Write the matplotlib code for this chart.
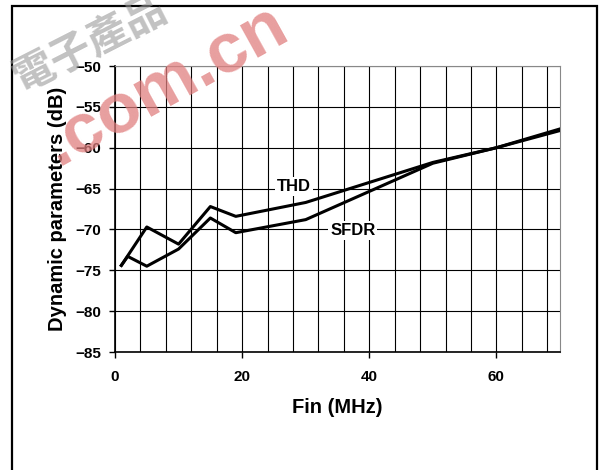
import matplotlib
matplotlib.use("Agg")
import matplotlib.pyplot as plt
from matplotlib.patches import Rectangle

# values
thd_f = [1, 5, 10, 15, 19, 30, 50, 60, 70]
thd_db = [-74.4, -69.7, -71.8, -67.2, -68.4, -66.7, -61.8, -60.0, -57.7]
sfdr_f = [1, 2, 5, 10, 15, 19, 30, 50, 60, 70]
sfdr_db = [-74.4, -73.3, -74.5, -72.4, -68.6, -70.4, -68.8, -61.9, -60.0, -57.9]

x_ticks = [0, 20, 40, 60]
x_grid = list(range(0, 72, 4))
y_ticks = [-85, -80, -75, -70, -65, -60, -55, -50]

plt.rcParams['font.family'] = ['Liberation Sans', 'DejaVu Sans']
plt.rcParams['font.weight'] = 'bold'

fig = plt.figure(figsize=(6.02, 4.70), dpi=100)
ax = fig.add_axes([115 / 602, 1 - 352 / 470, 445 / 602, 286 / 470])

# outer frame (open at the bottom)
fig.patches.append(Rectangle((12 / 602, -0.05), 585 / 602, 1.05 - 6 / 470,
                             transform=fig.transFigure, fill=False,
                             edgecolor='black', linewidth=1.6))

for g in x_grid:
    ax.axvline(g, color='black', linewidth=0.8, zorder=1)
for g in y_ticks:
    ax.axhline(g, color='black', linewidth=0.8, zorder=1)

ax.plot(thd_f, thd_db, color='black', linewidth=2.2, zorder=3)
ax.plot(sfdr_f, sfdr_db, color='black', linewidth=2.2, zorder=3)

ax.text(28.1, -64.7, 'THD', fontsize=12, fontweight='bold', ha='center', va='center',
        zorder=4, bbox=dict(facecolor='white', edgecolor='none', pad=1.5))
ax.text(37.4, -70.1, 'SFDR', fontsize=12, fontweight='bold', ha='center', va='center',
        zorder=4, bbox=dict(facecolor='white', edgecolor='none', pad=1.5))

ax.set_xlim(0, 70)
ax.set_ylim(-85, -50)
ax.set_xticks(x_ticks)
ax.set_yticks(y_ticks)
ax.tick_params(direction='out', length=4, width=1, labelsize=11)
ax.tick_params(axis='x', pad=9)
ax.tick_params(axis='y', pad=6)
for lab in ax.get_xticklabels() + ax.get_yticklabels():
    lab.set_fontweight('bold')

ax.spines['left'].set_linewidth(1.2)
ax.spines['bottom'].set_linewidth(1.2)
ax.spines['top'].set_color('#888888')
ax.spines['right'].set_color('#888888')

ax.set_xlabel('Fin (MHz)', fontsize=14.5, fontweight='bold', labelpad=10)
ax.set_ylabel('Dynamic parameters (dB)', fontsize=14.5, fontweight='bold', labelpad=6)

# watermark
fig.text(166 / 602, 1 - 86 / 470, '.com.cn', fontsize=51, fontweight='bold',
         color='#e07f7f', alpha=0.75, rotation=29, rotation_mode='anchor',
         ha='center', va='center', zorder=10)
fig.text(16 / 602, 1 - 82 / 470, '電子產品', fontsize=30, color='#999999', alpha=0.6,
         rotation=27, rotation_mode='anchor', ha='left', va='center', zorder=10,
         family=['Noto Sans CJK TC', 'DejaVu Sans'])

fig.savefig('out.png', dpi=100)
